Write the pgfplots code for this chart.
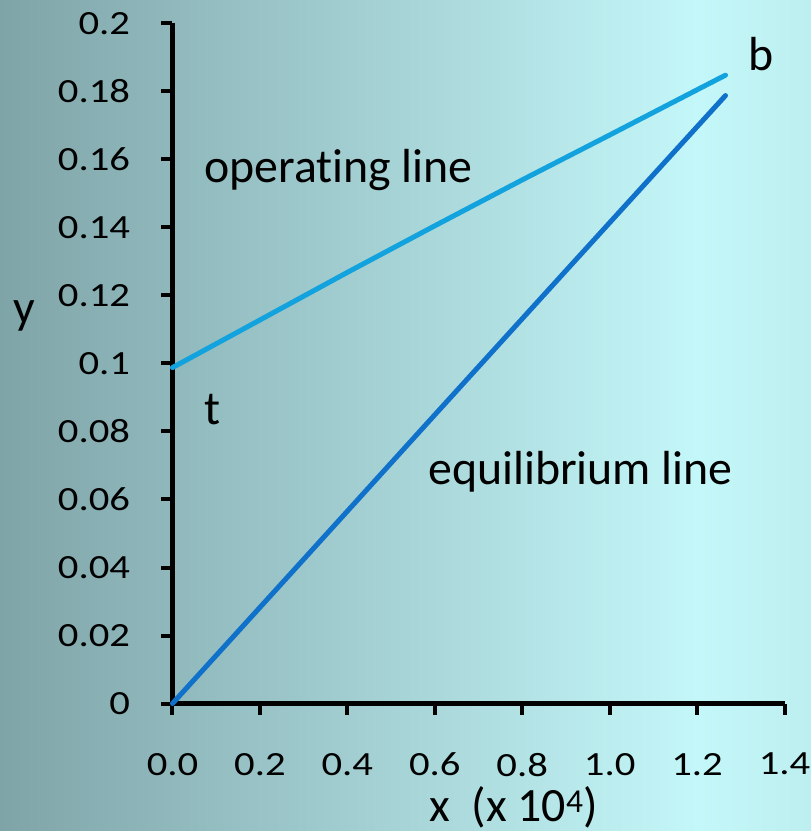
\documentclass[border=0pt]{standalone}
\usepackage{pgfplots}
\pgfplotsset{compat=1.18}
\usepackage{fontspec}
\setmainfont[Ligatures=NoCommon]{Carlito}
\newfontfamily\tickfont[FakeStretch=1.2, Ligatures=NoCommon]{Carlito}
\definecolor{opc}{HTML}{12A2DE}
\definecolor{eqc}{HTML}{0F71C9}
\definecolor{bgl}{HTML}{7FA4A8}
\definecolor{bgm}{HTML}{C4F7F9}
\definecolor{bgr}{HTML}{BDEFF0}
\pgfdeclarehorizontalshading{bgshade}{100bp}{color(0bp)=(bgl); color(25bp)=(bgl); color(68bp)=(bgm); color(75bp)=(bgr); color(100bp)=(bgr)}
\begin{document}
\begin{tikzpicture}
\useasboundingbox (-172.5bp,-127.5bp) rectangle (638.5bp,703.5bp);
\shade[shading=bgshade] (-172.5bp,-127.5bp) rectangle (638.5bp,703.5bp);
\begin{axis}[
  at={(0,0)}, anchor=south west,
  scale only axis, width=612bp, height=680bp,
  xmin=0, xmax=1.4, ymin=0, ymax=0.2,
  axis lines=left,
  axis line style={line width=5bp, black, -},
  xtick={0,0.2,0.4,0.6,0.8,1.0,1.2,1.4},
  ytick={0,0.02,0.04,0.06,0.08,0.1,0.12,0.14,0.16,0.18,0.2},
  tick align=outside,
  major tick length=11bp,
  every tick/.style={line width=4bp, black},
  /pgf/number format/assume math mode=true,
  x tick label style={font=\tickfont\fontsize{34}{40}\selectfont, yshift=-35bp, /pgf/number format/.cd, fixed, fixed zerofill, precision=1},
  y tick label style={font=\tickfont\fontsize{34}{40}\selectfont, xshift=-28bp, /pgf/number format/.cd, fixed, precision=2},
  clip=false,
]
\addplot[opc, line width=5bp, line cap=round] coordinates {
(0,0.0988) (0.2,0.1128) (0.4,0.1268) (0.6,0.1405) (0.8,0.1540) (1.0,0.1672) (1.2,0.1805) (1.265,0.1848)
};
\addplot[eqc, line width=5bp, line cap=round] coordinates {
(0,0) (0.3,0.0424) (0.6,0.0849) (0.9,0.1273) (1.265,0.1788)
};
\node[anchor=base west, inner sep=0, font=\fontsize{48}{56}\selectfont] at (axis cs:0.072,0.1531) {operating line};
\node[anchor=base west, inner sep=0, font=\fontsize{48}{56}\selectfont] at (axis cs:0.072,0.0822) {t};
\node[anchor=base west, inner sep=0, font=\fontsize{48}{56}\selectfont] at (axis cs:0.5845,0.0643) {equilibrium line};
\node[anchor=base west, inner sep=0, font=\fontsize{48}{56}\selectfont] at (axis cs:1.318,0.1863) {b};
\node[anchor=base west, inner sep=0, font=\fontsize{48}{56}\selectfont] at (axis cs:-0.365,0.1119) {y};
\node[anchor=base west, inner sep=0, font=\fontsize{48}{56}\selectfont] at (axis cs:0.587,-0.03485) {x\ \ (x 10\textsuperscript{4})};
\end{axis}
\end{tikzpicture}
\end{document}
